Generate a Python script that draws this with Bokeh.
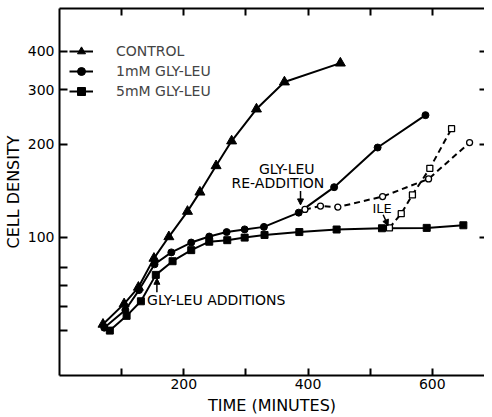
import math
from bokeh.plotting import figure
from bokeh.models import (Range1d, FixedTicker, LinearAxis, LogAxis, Label, Arrow,
                          NormalHead, Legend, LegendItem)
from bokeh.embed import file_html
from bokeh.resources import INLINE

# ---------------- data ----------------
time_control = [70, 104, 127, 152, 176, 206, 226, 252, 277, 317, 362, 452]
cd_control = [52.4, 61.0, 69.0, 85.6, 100.5, 121.4, 140.1, 170.5, 205, 260, 318, 366]

time_1mm = [72, 106, 128, 153, 180, 212, 241, 269, 298, 329, 385, 442, 512, 589]
cd_1mm = [51.1, 58.3, 67.6, 81.9, 89.5, 96.3, 100.7, 104.1, 106.2, 108.2, 120.3, 145.4, 195.3, 248.5]

time_5mm = [81, 108, 131, 155, 182, 212, 241, 270, 298, 330, 386, 446, 519, 591, 650]
cd_5mm = [50.0, 55.8, 62.2, 75.7, 83.8, 91.0, 96.9, 98.0, 99.9, 101.9, 104.1, 106.1, 107.1, 107.4, 109.5]

time_readd = [395, 420, 448, 520, 594, 660]
cd_readd = [123.2, 126.3, 125.4, 135.6, 154.6, 202.6]

time_ile = [531, 550, 568, 596, 631]
cd_ile = [107.4, 119.4, 137.3, 167.3, 224.7]

x_major_ticks = [200, 400, 600]
x_minor_ticks = [100, 300, 500]
y_major_ticks = [100, 200, 300, 400]
y_minor_ticks = [50, 60, 70, 80]

series_labels = ["CONTROL", "1mM GLY-LEU", "5mM GLY-LEU"]

# ---------------- layout helpers ----------------
FONT = "DejaVu Sans"
X0, X1 = 0, 684
Y0, Y1 = 35.8, 549.6
FL, FR, FT, FB = 60, 492, 8, 378  # frame edges in page pixels


def xd(px):
    return X0 + (px - FL) / (FR - FL) * (X1 - X0)


def yd(py):
    return 10 ** (math.log10(Y0) + (FB - py) / (FB - FT) * (math.log10(Y1) - math.log10(Y0)))


p = figure(width=484, height=417, y_axis_type="log",
           x_range=Range1d(X0, X1), y_range=Range1d(Y0, Y1),
           output_backend="svg", toolbar_location=None,
           min_border_left=52, min_border_right=0, min_border_top=8, min_border_bottom=39,
           x_axis_label="TIME (MINUTES)", y_axis_label="CELL DENSITY")
p.grid.visible = False
p.outline_line_color = None
p.background_fill_color = "white"
p.border_fill_color = "white"


def style_axis(ax, tick_len=7):
    ax.axis_line_width = 2
    ax.axis_line_color = "black"
    ax.major_tick_line_width = 2
    ax.major_tick_line_color = "black"
    ax.major_tick_in = tick_len
    ax.major_tick_out = 0
    ax.minor_tick_line_width = 2
    ax.minor_tick_line_color = "black"
    ax.minor_tick_in = tick_len
    ax.minor_tick_out = 0
    ax.major_label_text_font = FONT
    ax.major_label_text_font_size = "14px"
    ax.major_label_text_color = "black"
    ax.axis_label_text_font = FONT
    ax.axis_label_text_font_size = "16px"
    ax.axis_label_text_font_style = "normal"
    ax.axis_label_text_color = "black"


xa = p.xaxis[0]
xa.ticker = FixedTicker(ticks=x_major_ticks, minor_ticks=x_minor_ticks)
style_axis(xa)
xa.major_label_standoff = 3
xa.axis_label_standoff = 4

ya = p.yaxis[0]
ya.ticker = FixedTicker(ticks=y_major_ticks, minor_ticks=y_minor_ticks)
style_axis(ya, 8)
ya.major_label_standoff = 5
ya.axis_label_standoff = 2

top = LinearAxis(ticker=FixedTicker(ticks=[], minor_ticks=x_minor_ticks + x_major_ticks))
style_axis(top)
p.add_layout(top, "above")

right = LogAxis(ticker=FixedTicker(ticks=[], minor_ticks=y_major_ticks))
style_axis(right, 5)
right.axis_line_color = None
p.add_layout(right, "right")

# ---------------- data marks ----------------
lc = p.line(time_control, cd_control, line_width=2, color="black")
mc = p.scatter(time_control, cd_control, marker="triangle", size=10, color="black")

l1 = p.line(time_1mm, cd_1mm, line_width=2, color="black")
m1 = p.scatter(time_1mm, cd_1mm, marker="circle", size=7, color="black")

l5 = p.line(time_5mm, cd_5mm, line_width=2, color="black")
m5 = p.scatter(time_5mm, cd_5mm, marker="square", size=7, color="black")

p.line(time_readd, cd_readd, line_width=2, color="black", line_dash="6 4")
p.scatter(time_readd, cd_readd, marker="circle", size=6, fill_color="white",
          line_color="black", line_width=1.3)

p.line(time_ile, cd_ile, line_width=2, color="black", line_dash="6 4")
p.scatter(time_ile, cd_ile, marker="square", size=6, fill_color="white",
          line_color="black", line_width=1.3)

legend = Legend(items=[LegendItem(label=series_labels[0], renderers=[lc, mc]),
                       LegendItem(label=series_labels[1], renderers=[l1, m1]),
                       LegendItem(label=series_labels[2], renderers=[l5, m5])],
                location=(10, 274), glyph_width=24, glyph_height=20, label_height=20,
                label_standoff=23, padding=14, margin=0, spacing=0,
                border_line_color=None, background_fill_alpha=0,
                label_text_font=FONT, label_text_font_size="14px")
p.add_layout(legend)

# ---------------- annotations ----------------
def add_label(px, py, text, align="center", size="14px"):
    p.add_layout(Label(x=xd(px), y=yd(py), text=text, text_align=align,
                       text_baseline="middle", text_font=FONT,
                       text_font_size=size, text_color="black"))


def add_arrow(px0, py0, px1, py1):
    p.add_layout(Arrow(x_start=xd(px0), y_start=yd(py0), x_end=xd(px1), y_end=yd(py1),
                       line_width=1.5, line_color="black",
                       end=NormalHead(size=6, fill_color="black", line_color="black")))


add_label(291, 170, "GLY-LEU")
add_label(282, 184, "RE-ADDITION")
add_arrow(305, 192, 305, 206)

add_label(149, 302, "GLY-LEU ADDITIONS", align="left")
add_arrow(159, 294, 159, 280)

add_label(388, 210, "ILE", size="13px")
add_arrow(389, 216, 394, 227)

open("out.html", "w").write(file_html(p, INLINE))
